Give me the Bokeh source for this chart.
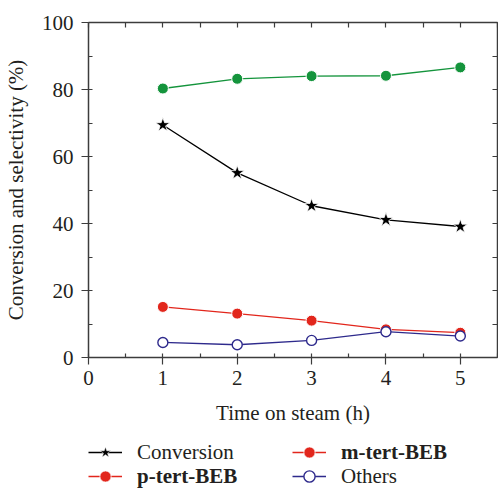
from bokeh.plotting import figure
from bokeh.layouts import column
from bokeh.models import (LinearAxis, SingleIntervalTicker, Range1d, Legend, LegendItem,
                          CustomJSTickFormatter)
from bokeh.embed import file_html
from bokeh.resources import INLINE

# ---- data ----
time_h = [1, 2, 3, 4, 5]
conversion = [69.4, 55.1, 45.3, 41.1, 39.1]
m_tert_beb = [80.3, 83.2, 84.0, 84.1, 86.6]
p_tert_beb = [15.1, 13.1, 11.0, 8.4, 7.4]
others = [4.5, 3.8, 5.1, 7.7, 6.4]
x_label = "Time on steam (h)"
y_label = "Conversion and selectivity (%)"
legend_labels = ["Conversion", "p-tert-BEB", "m-tert-BEB", "Others"]

FONT = "Liberation Serif"
FS = "21px"
TXT = "#231f20"
AX = "#3c3c3c"
GREEN = "#14943c"
RED = "#e2261c"
NAVY = "#2e2a8c"
NAN = float("nan")

p = figure(width=498, height=430, output_backend="svg", toolbar_location=None,
           x_range=Range1d(0, 5.5), y_range=Range1d(0, 100),
           min_border_left=88, min_border_right=1, min_border_top=22, min_border_bottom=73,
           x_axis_location=None, y_axis_location=None)
p.grid.visible = False
p.outline_line_color = None

def style(ax):
    ax.axis_line_color = AX
    ax.axis_line_width = 1.5
    ax.major_tick_line_color = AX
    ax.minor_tick_line_color = AX
    ax.major_tick_line_width = 1.2
    ax.minor_tick_line_width = 1.2
    ax.major_label_text_font = FONT
    ax.major_label_text_font_size = FS
    ax.major_label_text_color = TXT
    ax.axis_label_text_font = FONT
    ax.axis_label_text_font_size = FS
    ax.axis_label_text_font_style = "normal"
    ax.axis_label_text_color = TXT

xb = LinearAxis(ticker=SingleIntervalTicker(interval=1, num_minor_ticks=2), axis_label=x_label)
style(xb)
xb.major_tick_in = 0; xb.major_tick_out = 7; xb.minor_tick_in = 4; xb.minor_tick_out = 0
xb.major_label_standoff = 6; xb.axis_label_standoff = 13
p.add_layout(xb, "below")

yl = LinearAxis(ticker=SingleIntervalTicker(interval=20, num_minor_ticks=2), axis_label=y_label)
style(yl)
yl.major_tick_in = 0; yl.major_tick_out = 7; yl.minor_tick_in = 4; yl.minor_tick_out = 0
yl.major_label_standoff = 8; yl.axis_label_standoff = 11
p.add_layout(yl, "left")

blank = CustomJSTickFormatter(code="return ''")

xt = LinearAxis(ticker=SingleIntervalTicker(interval=0.5, num_minor_ticks=0), formatter=blank)
style(xt)
xt.major_tick_in = 5; xt.major_tick_out = 0; xt.minor_tick_in = 0; xt.minor_tick_out = 0
xt.major_label_standoff = 0
p.add_layout(xt, "above")

yr = LinearAxis(ticker=SingleIntervalTicker(interval=10, num_minor_ticks=0), formatter=blank)
style(yr)
yr.major_tick_in = 5; yr.major_tick_out = 0; yr.minor_tick_in = 0; yr.minor_tick_out = 0
yr.major_label_standoff = 0
p.add_layout(yr, "right")

# ---- series ----
lw = 1.3
p.line(time_h, conversion, line_color="black", line_width=lw)
p.scatter(time_h, conversion, marker="star", size=15, fill_color="black", line_color="white", line_width=0.8)
p.line(time_h, m_tert_beb, line_color=GREEN, line_width=lw)
p.scatter(time_h, m_tert_beb, marker="circle", size=11, fill_color=GREEN, line_color="white", line_width=1)
p.line(time_h, p_tert_beb, line_color=RED, line_width=lw)
p.scatter(time_h, p_tert_beb, marker="circle", size=11, fill_color=RED, line_color="white", line_width=1)
p.line(time_h, others, line_color=NAVY, line_width=lw)
p.scatter(time_h, others, marker="circle", size=10, fill_color="white", line_color=NAVY, line_width=1.4)

# ---- legend strip (m-tert-BEB entry is red in the reference) ----
lg = figure(width=498, height=60, output_backend="svg", toolbar_location=None,
            x_range=Range1d(0, 1), y_range=Range1d(0, 1), min_border=0,
            x_axis_location=None, y_axis_location=None)
lg.grid.visible = False
lg.outline_line_color = None

def entry(color, marker, fill, lwid):
    r1 = lg.line(x=[NAN], y=[NAN], line_color=color, line_width=lw)
    r2 = lg.scatter(x=[NAN], y=[NAN], marker=marker, fill_color=fill,
                    line_color=("white" if fill != "white" else color), line_width=lwid)
    return [r1, r2]

entries = [
    (legend_labels[0], entry("black", "star", "black", 0.5), (0, 24), False),
    (legend_labels[1], entry(RED, "circle", RED, 0.8), (0, 0), True),
    (legend_labels[2], entry(RED, "circle", RED, 0.8), (204, 24), True),
    (legend_labels[3], entry(NAVY, "circle", "white", 1.4), (204, 0), False),
]
for label, rends, loc, bold in entries:
    L = Legend(items=[LegendItem(label=label, renderers=rends)], location=loc,
               orientation="vertical", padding=0, margin=0, spacing=0,
               glyph_width=34, glyph_height=28, label_standoff=15, label_height=28,
               label_text_font=FONT, label_text_font_size=FS,
               label_text_color=TXT, label_text_font_style="bold" if bold else "normal",
               border_line_alpha=0, background_fill_alpha=0)
    lg.add_layout(L, "center")

open("out.html", "w").write(file_html(column(p, lg, spacing=0), INLINE))
